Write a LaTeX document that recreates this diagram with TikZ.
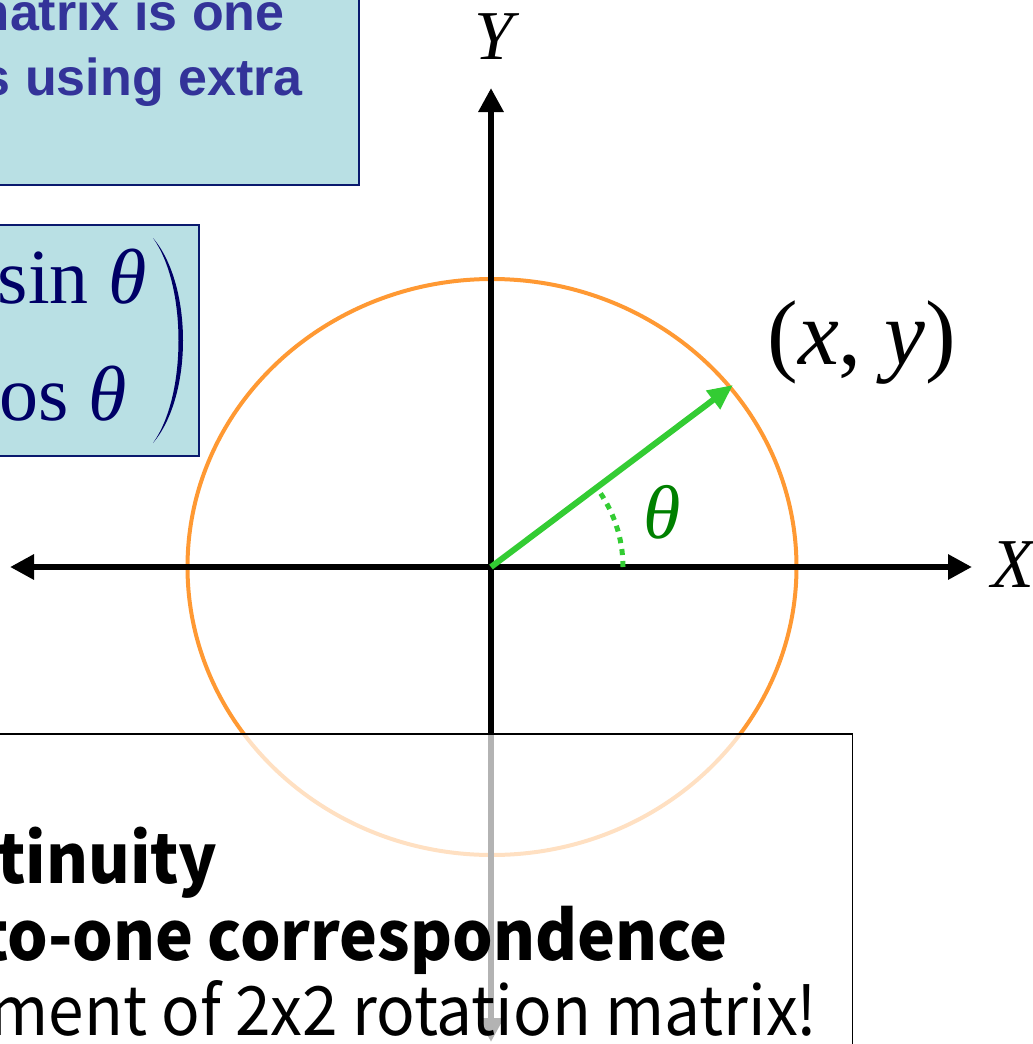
\documentclass[tikz,border=0pt]{standalone}
\usepackage{fontspec}
\setmainfont{Liberation Serif}
\newfontfamily\slidefont{Liberation Sans}
\newfontfamily\notefont[FakeStretch=0.94]{Noto Sans CJK KR}
\usetikzlibrary{arrows.meta}
\definecolor{panel}{HTML}{B9E0E4}
\definecolor{panelB}{HTML}{0A1A6E}
\definecolor{slideblue}{HTML}{333399}
\definecolor{mtxink}{HTML}{000066}
\definecolor{circ}{HTML}{FF9933}
\definecolor{vec}{HTML}{33CC33}
\definecolor{angleink}{HTML}{008000}

\begin{document}
\begin{tikzpicture}[x=0.5pt, y=-0.5pt,
    panelbox/.style={draw=panelB, fill=panel, line width=1pt, inner sep=0pt},
    bluetext/.style={font=\slidefont\bfseries\fontsize{26}{32}\selectfont, text=slideblue,
                     inner sep=0pt, anchor=base east},
    mtxtext/.style={font=\fontsize{39}{44}\selectfont, text=mtxink, inner sep=0pt, anchor=base east},
    notebox/.style={draw=black, line width=0.75pt, fill=white, fill opacity=0.7, inner sep=0pt},
    notetext/.style={font=\notefont\fontsize{34}{40}\selectfont, inner sep=0pt, anchor=base east},
    axis/.style={line width=3pt, {Triangle[length=12pt,width=12pt]}-{Triangle[length=12pt,width=12pt]}},
    vecarrow/.style={draw=vec, line width=3pt, -{Triangle[length=12.5pt,width=11pt]}},
    axislabel/.style={font=\fontsize{35}{40}\selectfont\itshape},
  ]
  \clip (0,0) rectangle (1033,1044);

  % the text box and the matrix, at the top left
  \node[panelbox, anchor=north east, minimum width=190pt, minimum height=102pt] (topbox) at (360,-20) {};
  \node[bluetext] (line1) at (285,30) {matrix is one};
  \node[bluetext] (line2) at (303,95) {s using extra};

  \node[panelbox, anchor=north east, minimum width=110pt, minimum height=115.5pt] (mtxbox) at (200,224) {};
  \node[mtxtext] (sinrow) at (147,303) {sin\hspace{0.25em}\textit{θ}};
  \node[mtxtext] (cosrow) at (127,420) {cos\hspace{0.25em}\textit{θ}};
  \fill[mtxink] (153,238) .. controls (193,285) and (193,396) .. (153,443)
                .. controls (187,396) and (187,285) .. (153,238) -- cycle;

  % circle and axes
  \coordinate (O) at (491,567);
  \coordinate (P) at (733,385);
  \coordinate (xl) at (10,567);
  \coordinate (xr) at (972,567);
  \coordinate (yt) at (491,88);
  \coordinate (yb) at (491,1042);
  \draw[circ, line width=2pt] (492,567) ellipse [x radius=304.5, y radius=288];
  \draw[axis] (xl) -- (xr);
  \draw[axis] (yb) -- (yt);
  \node[axislabel] (ylab) at (494,37) {Y};
  \node[axislabel] (xlab) at (1013,565) {X};

  % the vector and its angle
  \draw[vecarrow] (O) -- (P);
  \draw[vec, line width=2.5pt, dash pattern=on 3pt off 3pt] (623,567) arc[start angle=0, end angle=-37, radius=132];
  \node[font=\fontsize{38}{44}\selectfont\itshape, text=angleink] (theta) at (662,512) {θ};
  \node[font=\fontsize{46}{52}\selectfont] (pt) at (862,343) {(\textit{x}, \textit{y})};

  % the note at the bottom
  \node[notebox, anchor=north east, minimum width=436.5pt, minimum height=170pt] (note) at (853,733) {};
  \node[notetext, font=\notefont\bfseries\fontsize{34}{40}\selectfont] (n1) at (218,883) {ntinuity};
  \node[notetext, font=\notefont\bfseries\fontsize{34}{40}\selectfont] (n2) at (728,960) {-to-one correspondence};
  \node[notetext] (n3) at (818,1035) {ment of 2x2 rotation matrix!};
\end{tikzpicture}
\end{document}
